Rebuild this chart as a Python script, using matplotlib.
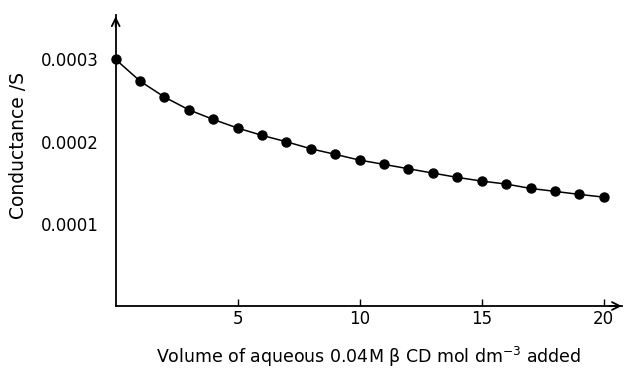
import matplotlib.pyplot as plt
import numpy as np

# volume added (x) and measured conductance (y)
volume = [0, 1, 2, 3, 4, 5, 6, 7, 8, 9, 10, 11, 12, 13, 14, 15, 16, 17, 18, 19, 20]
conductance = [0.000300, 0.0002736, 0.0002542, 0.0002387, 0.0002270, 0.0002165,
               0.0002076, 0.0001998, 0.0001913, 0.0001845, 0.0001775, 0.0001723,
               0.0001670, 0.0001617, 0.0001565, 0.0001520, 0.0001484, 0.0001431,
               0.0001395, 0.0001358, 0.0001325]
xticks = [5, 10, 15, 20]
yticks = [0.0001, 0.0002, 0.0003]
ytick_labels = ['0.0001', '0.0002', '0.0003']


def main():
    fig = plt.figure(figsize=(6.24, 3.73), dpi=100)
    ax = fig.add_axes([0.1854, 0.1796, 0.8114, 0.780])

    ax.plot(volume, conductance, color='black', lw=1.1, marker='o',
            markersize=6.5, clip_on=False, zorder=3)

    ax.set_xlim(0, 20.75)
    ax.set_ylim(0, 0.000354)

    ax.spines['top'].set_visible(False)
    ax.spines['right'].set_visible(False)
    ax.spines['left'].set_linewidth(1.3)
    ax.spines['bottom'].set_linewidth(1.3)

    # arrow heads at the ends of both axes
    ax.annotate('', xy=(1.005, 0), xytext=(0.97, 0), xycoords='axes fraction',
                arrowprops=dict(arrowstyle='->', lw=1.3, color='black',
                                mutation_scale=14))
    ax.annotate('', xy=(0, 1.005), xytext=(0, 0.95), xycoords='axes fraction',
                arrowprops=dict(arrowstyle='->', lw=1.3, color='black',
                                mutation_scale=14))

    ax.set_xticks(xticks)
    ax.set_xticklabels([str(t) for t in xticks], fontsize=12)
    ax.tick_params(axis='x', direction='in', length=5, width=1, pad=3)
    ax.set_yticks(yticks)
    ax.set_yticklabels(ytick_labels, fontsize=12)
    ax.tick_params(axis='y', length=0, pad=12)

    ax.set_xlabel('Volume of aqueous 0.04M \u03b2 CD mol dm$^{-3}$ added',
                  fontsize=12.5, labelpad=12)
    ax.set_ylabel('Conductance /S', fontsize=13.5)
    ax.yaxis.set_label_coords(-0.173, 0.553)

    fig.savefig('out.png', dpi=100)


if __name__ == "__main__":
    main()
